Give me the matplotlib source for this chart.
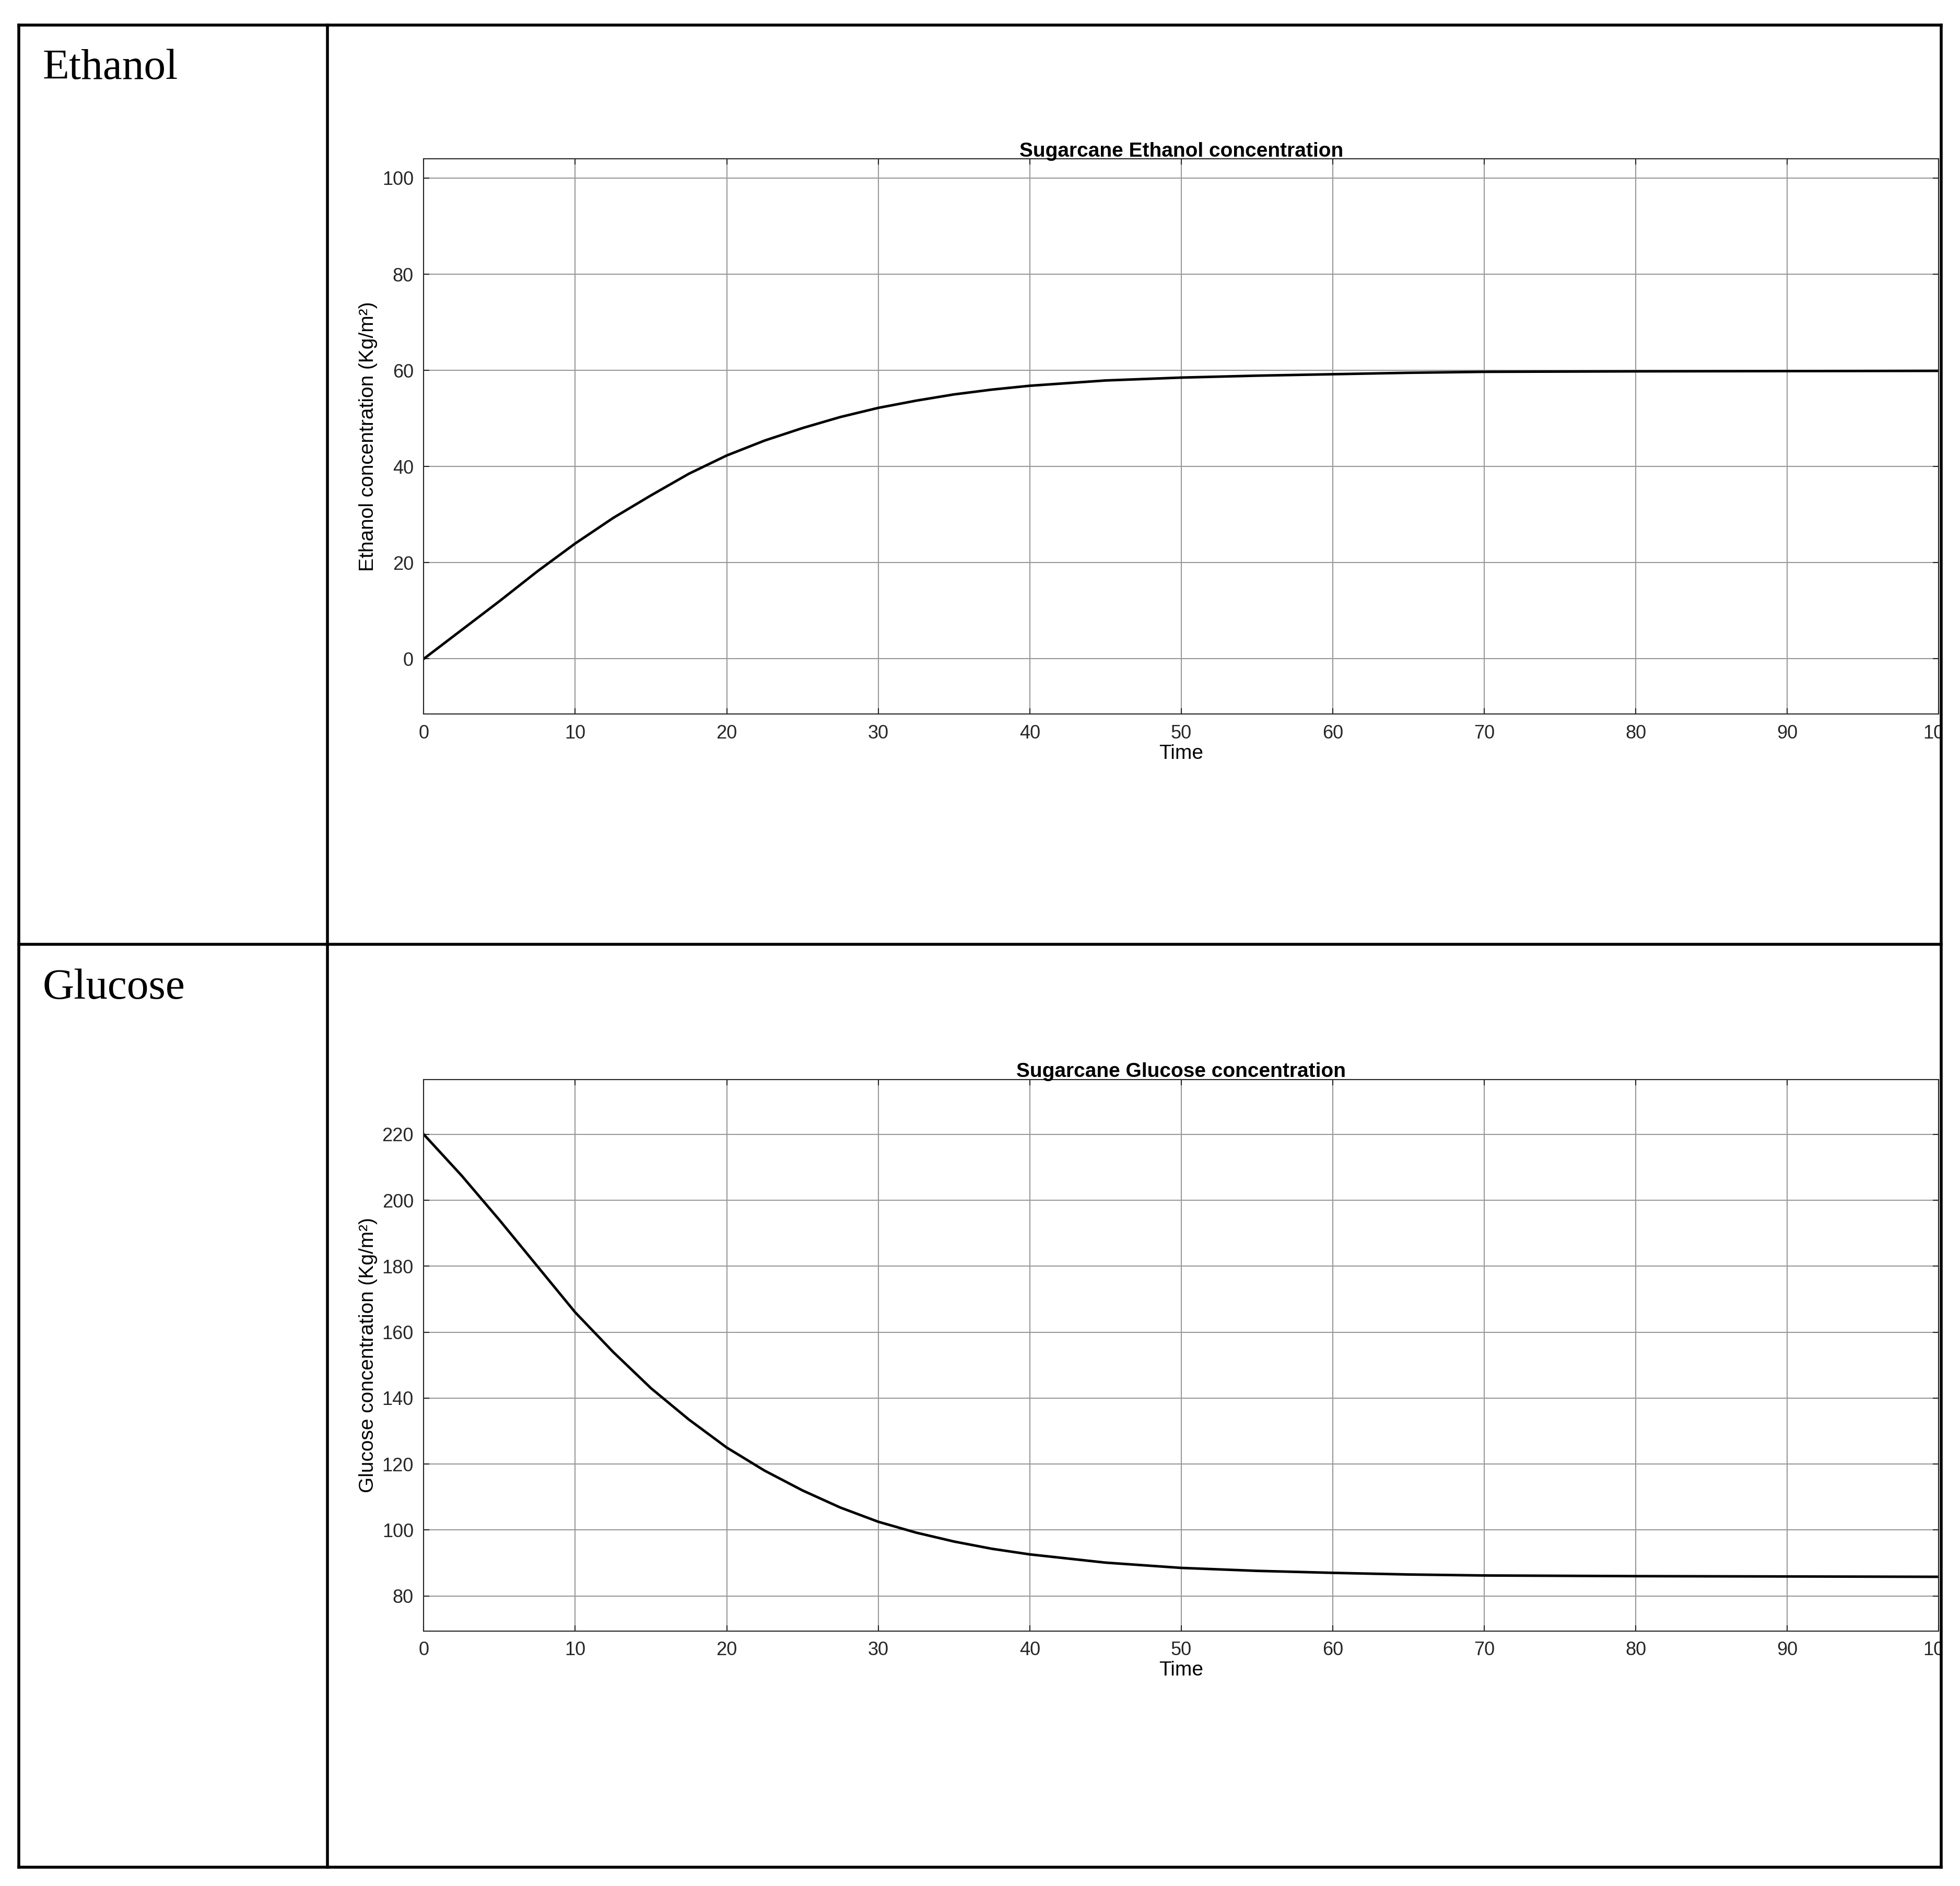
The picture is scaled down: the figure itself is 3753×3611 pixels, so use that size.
import numpy as np
import matplotlib.pyplot as plt
from matplotlib.lines import Line2D
from matplotlib.patches import Rectangle

# data
time = [0, 2.5, 5, 7.5, 10, 12.5, 15, 17.5, 20, 22.5, 25, 27.5, 30, 32.5, 35, 37.5, 40,
        45, 50, 55, 60, 65, 70, 80, 90, 100]
ethanol = [0, 6, 12, 18.2, 24, 29.3, 34, 38.5, 42.3, 45.4, 48, 50.3, 52.2, 53.7, 55, 56, 56.8,
           57.9, 58.5, 58.9, 59.2, 59.5, 59.7, 59.8, 59.85, 59.9]
glucose = [220, 207.5, 194, 180, 166, 154, 143, 133.5, 125, 118, 112, 106.8, 102.5, 99.2, 96.5, 94.3, 92.6,
           90.1, 88.5, 87.6, 87, 86.5, 86.2, 86, 85.9, 85.8]

W, H = 1568.0, 1508.0  # reference layout units
fig = plt.figure(figsize=(37.53, 36.11), dpi=100)
plt.rcParams['font.family'] = 'Liberation Sans'

def ax_rect(l, t, r, b):
    return [l / W, 1 - b / H, (r - l) / W, (b - t) / H]

panels = [
    (127, 571, ethanol, (-11.5, 104), 20, 'Sugarcane Ethanol concentration',
     'Ethanol concentration (Kg/m²)', 'Ethanol', 55),
    (863, 1304, glucose, (69.4, 236.7), 20, 'Sugarcane Glucose concentration',
     'Glucose concentration (Kg/m²)', 'Glucose', 790),
]
for top, bot, y, ylim, step, title, ylabel, name, ty in panels:
    ax = fig.add_axes(ax_rect(339, top, 1551, bot))
    ax.plot(time, y, color='black', linewidth=3.5)
    ax.set_xlim(0, 100)
    ax.set_ylim(*ylim)
    ax.set_xticks(np.arange(0, 101, 10))
    lo = int(np.ceil(ylim[0] / step)) * step
    ax.set_yticks(np.arange(lo, ylim[1], step))
    ax.grid(True, color='#999999', linewidth=1.5)
    ax.tick_params(labelsize=26, length=8, width=1.5, top=True, right=True, direction='in',
                   colors='#262626', pad=14)
    for s in ax.spines.values():
        s.set_linewidth(1.5)
        s.set_color('#262626')
    ax.set_title(title, fontsize=28, fontweight='bold', pad=3)
    ax.set_xlabel('Time', fontsize=28, labelpad=2)
    ax.set_ylabel(ylabel, fontsize=28, labelpad=6)
    fig.text(34 / W, 1 - ty / H, name, fontsize=60, family='Liberation Serif', va='center')

# hide anything past the table's right border
fig.add_artist(Rectangle((1553 / W, 0), 1, 1, transform=fig.transFigure,
                         facecolor='white', edgecolor='none', zorder=50))

# table lines
lw = 4
def fline(x0, y0, x1, y1):
    fig.add_artist(Line2D([x0 / W, x1 / W], [1 - y0 / H, 1 - y1 / H], color='black',
                          linewidth=lw, transform=fig.transFigure, zorder=60))
fline(15, 20, 1553, 20)
fline(15, 1493, 1553, 1493)
fline(15, 20, 15, 1493)
fline(1553, 20, 1553, 1493)
fline(262, 20, 262, 1493)
fline(15, 755, 1553, 755)

fig.savefig('out.png', dpi=100)
